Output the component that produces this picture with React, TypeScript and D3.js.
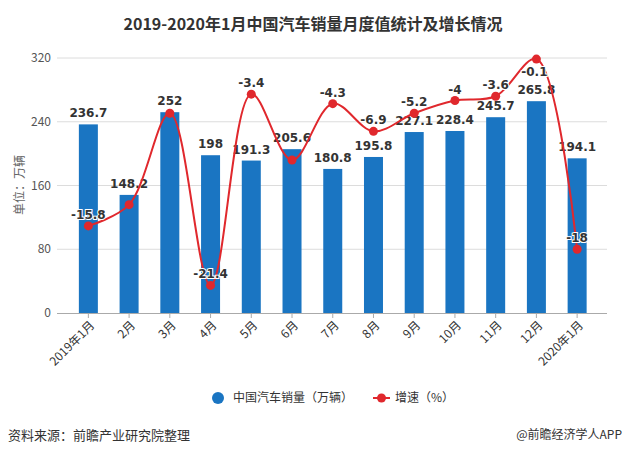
import React from "react";
import * as d3 from "d3";

const categories = ["2019年1月", "2月", "3月", "4月", "5月", "6月", "7月", "8月", "9月", "10月", "11月", "12月", "2020年1月"];
const sales = [236.7, 148.2, 252, 198, 191.3, 205.6, 180.8, 195.8, 227.1, 228.4, 245.7, 265.8, 194.1];
const growth = [-15.8, -13.8, -5.2, -21.4, -3.4, -9.6, -4.3, -6.9, -5.2, -4, -3.6, -0.1, -18];
const growthLabelShown = [true, false, false, true, true, false, true, true, true, true, true, true, true];
const yTicks = [0, 80, 160, 240, 320];

const W = 625;
const H = 453;
const BAR = "#1a75c2";
const RED = "#e0282d";
const NUM_FONT = "'DejaVu Sans', Verdana, sans-serif";
const CJK_FONT = "'Noto Sans CJK SC', 'Noto Sans', sans-serif";

export default function App() {
  const top = 58, bottom = 313, gridL = 57, gridR = 607;
  const x = d3.scaleBand<string>().domain(categories).range([68, 597.5]).paddingInner(0);
  const y = d3.scaleLinear().domain([0, 320]).range([bottom, top]);
  const y2 = d3.scaleLinear().domain([-24, 0]).range([bottom, top]);
  const bw = 19;
  const cx = (i: number) => (x(categories[i]) as number) + x.bandwidth() / 2;
  const line = d3
    .line<number>()
    .x((_, i) => cx(i))
    .y((d) => y2(d))
    .curve(d3.curveCatmullRom.alpha(0.5));

  return (
    <svg width={W} height={H} style={{ display: "block", position: "absolute", left: 0, top: 0, background: "#fff" }}>
      <rect width={W} height={H} fill="#fff" />
      <text x={313} y={30} textAnchor="middle" fontFamily={CJK_FONT} fontWeight="bold" fontSize={16} fill="#333">
        2019-2020年1月中国汽车销量月度值统计及增长情况
      </text>
      {yTicks.map((t) => (
        <g key={t}>
          {t > 0 && <line x1={gridL} x2={gridR} y1={y(t)} y2={y(t)} stroke="#dcdcdc" strokeWidth={1} />}
          <text x={51} y={y(t)} dy="0.35em" textAnchor="end" fontFamily={CJK_FONT} fontSize={12} fill="#555">
            {t}
          </text>
        </g>
      ))}
      <text
        transform={`translate(20,185) rotate(-90)`}
        textAnchor="middle"
        dy="0.35em"
        fontFamily={CJK_FONT}
        fontSize={12}
        fill="#666"
      >
        单位：万辆
      </text>
      {sales.map((v, i) => (
        <rect key={i} x={cx(i) - bw / 2} y={y(v)} width={bw} height={bottom - y(v)} fill={BAR} />
      ))}
      <line x1={gridL} x2={gridR} y1={bottom + 0.5} y2={bottom + 0.5} stroke="#aaa" />
      {categories.map((c, i) => (
        <g key={c}>
          <line x1={cx(i)} x2={cx(i)} y1={bottom} y2={bottom + 5} stroke="#aaa" />
          <text
            transform={`translate(${cx(i) + 4},${bottom + 10}) rotate(-45)`}
            textAnchor="end"
            dy="0.35em"
            fontFamily={CJK_FONT}
            fontSize={12}
            fill="#333"
          >
            {c}
          </text>
        </g>
      ))}
      {sales.map((v, i) => (
        <text key={i} x={cx(i)} y={y(v) - 7} textAnchor="middle" fontFamily={NUM_FONT} fontSize={12} fontWeight={600} fill="#333">
          {v}
        </text>
      ))}
      <path d={line(growth) || ""} fill="none" stroke={RED} strokeWidth={2} />
      {growth.map((g, i) => (
        <circle key={i} cx={cx(i)} cy={y2(g)} r={4.5} fill={RED} />
      ))}
      {growth.map((g, i) => {
        if (!growthLabelShown[i]) return null;
        const py = y2(g);
        const below = py - 18 < top;
        return (
          <text
            key={i}
            x={cx(i) - (below ? 2 : 0)}
            y={below ? py + 17 : py - 7}
            textAnchor="middle"
            fontFamily={NUM_FONT}
            fontSize={12}
            fontWeight={600}
            fill="#333"
            stroke="#fff"
            strokeWidth={2}
            paintOrder="stroke"
          >
            {g}
          </text>
        );
      })}
      <circle cx={218} cy={398} r={6} fill={BAR} />
      <text x={233} y={398} dy="0.35em" fontFamily={CJK_FONT} fontSize={12} fill="#333">
        中国汽车销量（万辆）
      </text>
      <line x1={373} x2={390} y1={398} y2={398} stroke={RED} strokeWidth={2} />
      <circle cx={381.5} cy={398} r={4.5} fill={RED} />
      <text x={395} y={398} dy="0.35em" fontFamily={CJK_FONT} fontSize={12} fill="#333">
        增速（%）
      </text>
      <text x={8} y={435} dy="0.35em" fontFamily={CJK_FONT} fontSize={13} fill="#333">
        资料来源：前瞻产业研究院整理
      </text>
      <text x={622} y={435} dy="0.35em" textAnchor="end" fontFamily={CJK_FONT} fontSize={12} fill="#333">
        @前瞻经济学人APP
      </text>
    </svg>
  );
}
